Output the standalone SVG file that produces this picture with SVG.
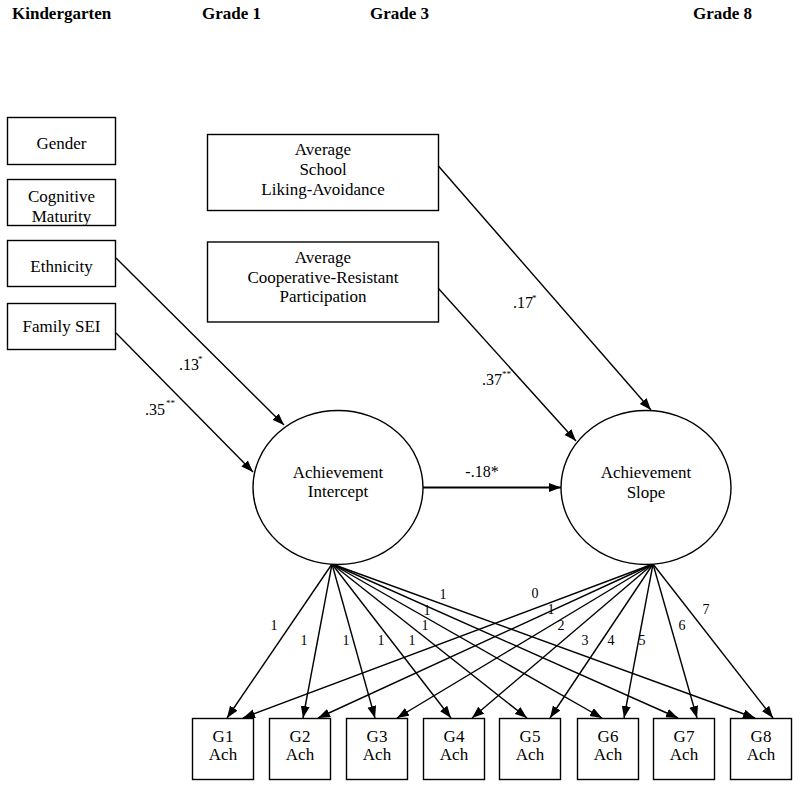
<svg xmlns="http://www.w3.org/2000/svg" width="800" height="788" viewBox="0 0 800 788">
<style>
  .box { fill: #fff; stroke: #000; stroke-width: 1.4; }
  .t { font-family: "Liberation Serif", "Times New Roman", serif; font-size: 17px; fill: #000; text-anchor: middle; }
  .h { font-family: "Liberation Serif", "Times New Roman", serif; font-size: 17px; font-weight: bold; fill: #000; }
  .c { font-family: "Liberation Serif", "Times New Roman", serif; font-size: 16px; fill: #000; }
  .sup { font-family: "Liberation Serif", "Times New Roman", serif; font-size: 9px; fill: #000; }
  .n { font-family: "Liberation Serif", "Times New Roman", serif; font-size: 14px; fill: #000; text-anchor: middle; }
  .ln { stroke: #000; stroke-width: 1.4; fill: none; marker-end: url(#ah); }
</style>
<defs>
  <marker id="ah" markerUnits="userSpaceOnUse" markerWidth="13" markerHeight="10" refX="12" refY="4.5" orient="auto">
    <path d="M0,0 L12,4.5 L0,9 Z" fill="#000"/>
  </marker>
</defs>
<rect width="800" height="788" fill="#fff"/>

<g id="headers">
  <text class="h" x="12" y="19">Kindergarten</text>
  <text class="h" x="202" y="19">Grade 1</text>
  <text class="h" x="370" y="19">Grade 3</text>
  <text class="h" x="693" y="19">Grade 8</text>
</g>

<g id="connectors">
  <line class="ln" x1="116" y1="258" x2="284" y2="425"/>
  <line class="ln" x1="116" y1="333" x2="253" y2="472"/>
  <line class="ln" x1="438" y1="165.5" x2="651" y2="410"/>
  <line class="ln" x1="438" y1="288" x2="576" y2="441"/>
  <line class="ln" x1="423" y1="487.5" x2="561" y2="487.5" style="stroke-width:2"/>
  <line class="ln" x1="332" y1="564" x2="227" y2="718"/>
  <line class="ln" x1="332" y1="564" x2="303" y2="718"/>
  <line class="ln" x1="332" y1="564" x2="375" y2="718"/>
  <line class="ln" x1="332" y1="564" x2="451" y2="718"/>
  <line class="ln" x1="332" y1="564" x2="527" y2="718"/>
  <line class="ln" x1="332" y1="564" x2="602" y2="718"/>
  <line class="ln" x1="332" y1="564" x2="678" y2="718"/>
  <line class="ln" x1="332" y1="564" x2="755" y2="718"/>
  <line class="ln" x1="653" y1="564" x2="243" y2="718"/>
  <line class="ln" x1="653" y1="564" x2="318" y2="718"/>
  <line class="ln" x1="653" y1="564" x2="397" y2="718"/>
  <line class="ln" x1="653" y1="564" x2="472" y2="718"/>
  <line class="ln" x1="653" y1="564" x2="550" y2="718"/>
  <line class="ln" x1="653" y1="564" x2="624" y2="718"/>
  <line class="ln" x1="653" y1="564" x2="697" y2="718"/>
  <line class="ln" x1="653" y1="564" x2="773" y2="718"/>
</g>

<g id="coef-labels">
  <text class="c" x="179" y="370">.13</text><text class="sup" x="198" y="362">*</text>
  <text class="c" x="145" y="415">.35</text><text class="sup" x="166" y="406">**</text>
  <text class="c" x="513" y="308">.17</text><text class="sup" x="532" y="301">*</text>
  <text class="c" x="482" y="385">.37</text><text class="sup" x="502" y="377">**</text>
  <text class="c" x="482" y="477" text-anchor="middle">-.18*</text>
</g>

<g id="loading-labels">
  <text class="n" x="274" y="630">1</text>
  <text class="n" x="304" y="645">1</text>
  <text class="n" x="346" y="645">1</text>
  <text class="n" x="381" y="645">1</text>
  <text class="n" x="412" y="645">1</text>
  <text class="n" x="425" y="630">1</text>
  <text class="n" x="427" y="615">1</text>
  <text class="n" x="443" y="599">1</text>
  <text class="n" x="535" y="598">0</text>
  <text class="n" x="551" y="614">1</text>
  <text class="n" x="561" y="630">2</text>
  <text class="n" x="585" y="645">3</text>
  <text class="n" x="611" y="645">4</text>
  <text class="n" x="642" y="645">5</text>
  <text class="n" x="682" y="630">6</text>
  <text class="n" x="706" y="614">7</text>
</g>

<g id="gender"><rect class="box" x="7.5" y="117.5" width="108" height="47"/><text class="t" x="61.5" y="149">Gender</text></g>
<g id="cognitive"><rect class="box" x="7.5" y="179.5" width="108" height="46"/><text class="t" x="61.5" y="202">Cognitive</text><text class="t" x="61.5" y="222">Maturity</text></g>
<g id="ethnicity"><rect class="box" x="7.5" y="240.5" width="108" height="46"/><text class="t" x="61.5" y="272">Ethnicity</text></g>
<g id="family-sei"><rect class="box" x="7.5" y="303.5" width="108" height="46"/><text class="t" x="61.5" y="332">Family SEI</text></g>

<g id="school-liking"><rect class="box" x="207.5" y="134.5" width="231" height="76"/><text class="t" x="323" y="155">Average</text><text class="t" x="323" y="175">School</text><text class="t" x="323" y="195">Liking-Avoidance</text></g>
<g id="coop-participation"><rect class="box" x="207.5" y="242" width="231" height="80"/><text class="t" x="323" y="263">Average</text><text class="t" x="323" y="283">Cooperative-Resistant</text><text class="t" x="323" y="302">Participation</text></g>

<g id="intercept"><ellipse class="box" cx="338" cy="487.5" rx="85" ry="77"/><text class="t" x="338" y="478">Achievement</text><text class="t" x="338" y="497">Intercept</text></g>
<g id="slope"><ellipse class="box" cx="646" cy="487.5" rx="85" ry="77"/><text class="t" x="646" y="478">Achievement</text><text class="t" x="646" y="498">Slope</text></g>

<g id="g1"><rect class="box" x="192.5" y="718.5" width="61" height="61"/><text class="t" x="223" y="742">G1</text><text class="t" x="223" y="760">Ach</text></g>
<g id="g2"><rect class="box" x="269.5" y="718.5" width="61" height="61"/><text class="t" x="300" y="742">G2</text><text class="t" x="300" y="760">Ach</text></g>
<g id="g3"><rect class="box" x="346.5" y="718.5" width="61" height="61"/><text class="t" x="377" y="742">G3</text><text class="t" x="377" y="760">Ach</text></g>
<g id="g4"><rect class="box" x="423.5" y="718.5" width="61" height="61"/><text class="t" x="454" y="742">G4</text><text class="t" x="454" y="760">Ach</text></g>
<g id="g5"><rect class="box" x="499.5" y="718.5" width="61" height="61"/><text class="t" x="530" y="742">G5</text><text class="t" x="530" y="760">Ach</text></g>
<g id="g6"><rect class="box" x="577.5" y="718.5" width="61" height="61"/><text class="t" x="608" y="742">G6</text><text class="t" x="608" y="760">Ach</text></g>
<g id="g7"><rect class="box" x="653.5" y="718.5" width="61" height="61"/><text class="t" x="684" y="742">G7</text><text class="t" x="684" y="760">Ach</text></g>
<g id="g8"><rect class="box" x="730.5" y="718.5" width="61" height="61"/><text class="t" x="761" y="742">G8</text><text class="t" x="761" y="760">Ach</text></g>
</svg>
